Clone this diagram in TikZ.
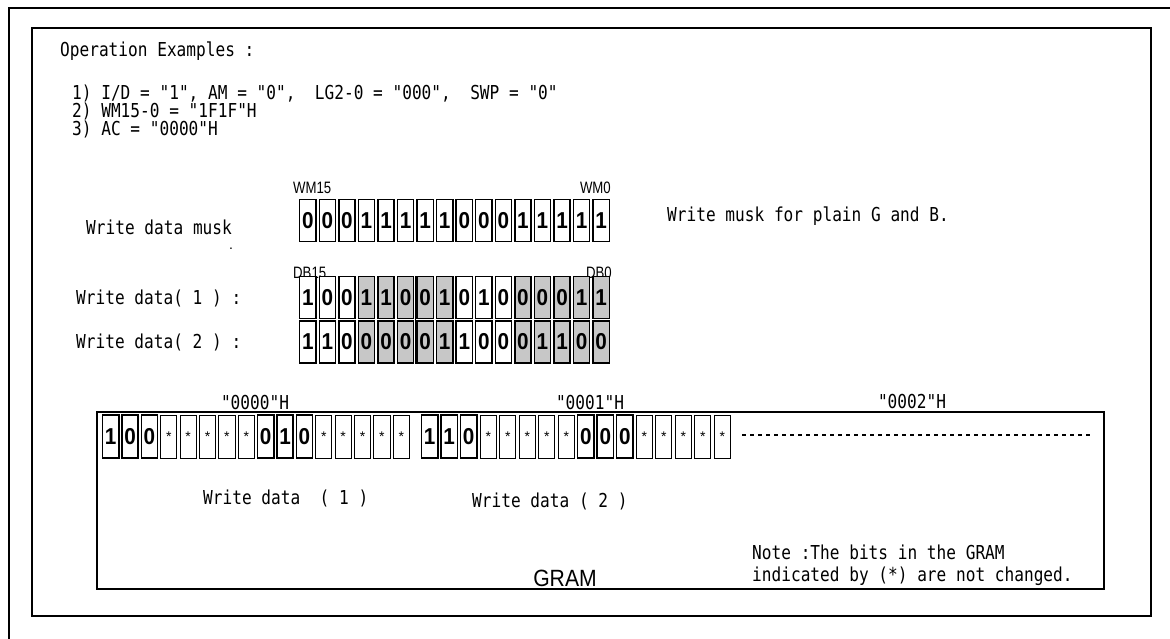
\documentclass[tikz,border=0pt]{standalone}
\usepackage{fontspec}
\setmainfont{Liberation Sans}
\newfontfamily\monofam[FakeStretch=0.84]{DejaVu Sans Mono}
\newfontfamily\lbfam[FakeStretch=0.8]{Liberation Sans}
\newfontfamily\grfam[FakeStretch=0.9]{Liberation Sans}
\newfontfamily\bitfam[FakeStretch=0.9]{Liberation Sans}
\tikzset{
  tx/.style={anchor=base west, inner sep=0, font=\monofam\fontsize{19.2}{22}\selectfont},
  lb/.style={inner sep=0, font=\lbfam\fontsize{16.5}{19}\selectfont},
  addr/.style={anchor=base, inner sep=0, font=\monofam\fontsize{19.2}{22}\selectfont},
  frame/.style={line width=2},
  cell/.style={draw, line width=1.4, minimum width=16.2, minimum height=42, inner sep=0,
    font=\bitfam\fontsize{23}{23}\selectfont\bfseries},
  sh0/.style={fill=white},
  sh1/.style={fill=black!22},
  gd/.style={draw, line width=1.5, minimum width=16.2, minimum height=43, inner sep=0,
    font=\bitfam\fontsize{23}{23}\selectfont\bfseries},
  gs/.style={draw, line width=0.9, minimum width=16.2, minimum height=43, inner sep=0,
    font=\fontsize{14}{14}\selectfont},
}
\begin{document}
\begin{tikzpicture}[x=1pt,y=-1pt]
\useasboundingbox (0,0) rectangle (1170,639);
% outer and inner frames
\draw[frame] (9,639) -- (9,8) -- (1170,8);
\draw[frame] (32,28) rectangle (1151,616);
\draw[frame] (97,412) rectangle (1104,589);

% header
\node[tx] (title) at (60,57) {Operation Examples :};
\node[tx] (c1) at (72,100) {1) I/D = "1", AM = "0",\ \ LG2-0 = "000",\ \ SWP = "0"};
\node[tx] (c2) at (72,118) {2) WM15-0 = "1F1F"H};
\node[tx] (c3) at (72,136) {3) AC = "0000"H};

% bit labels
\node[lb, anchor=base west] (wm15) at (293,194) {WM15};
\node[lb, anchor=base east] (wm0) at (611,194) {WM0};
\node[lb, anchor=base west] (db15) at (293,278) {DB15};
\node[lb, anchor=base east] (db0) at (612,278) {DB0};

% row labels
\node[tx] (lmask) at (86,235) {Write data musk};
\node[inner sep=0, font=\fontsize{14}{14}\selectfont] (dot) at (231,249) {.};
\node[tx] (ld1) at (76,304) {Write data( 1 ) :};
\node[tx] (ld2) at (76,348) {Write data( 2 ) :};
\node[tx] (lwm) at (667,222) {Write musk for plain G and B.};

% mask row
\foreach \b [count=\i from 0] in {0,0,0,1,1,1,1,1,0,0,0,1,1,1,1,1}
  \node[cell] (m\i) at ({298+19.56*(\i+0.5)},220.5) {\b};
% data rows
\foreach \b/\s [count=\i from 0] in {1/0,0/0,0/0,1/1,1/1,0/1,0/1,1/1,0/0,1/0,0/0,0/1,0/1,0/1,1/1,1/1}
  \node[cell, sh\s] (a\i) at ({298+19.56*(\i+0.5)},297.5) {\b};
\foreach \b/\s [count=\i from 0] in {1/0,1/0,0/0,0/1,0/1,0/1,0/1,1/1,1/0,0/0,0/0,0/1,1/1,1/1,0/1,0/1}
  \node[cell, sh\s] (b\i) at ({298+19.56*(\i+0.5)},342) {\b};
\draw[line width=0.8] (a5.north east -| 415.5,0) -- (b5.south east -| 415.5,0);

% address labels
\node[addr] (h0) at (255,409) {"0000"H};
\node[addr] (h1) at (590,409) {"0001"H};
\node[addr] (h2) at (912,408) {"0002"H};

% GRAM cells
\foreach \b/\t [count=\i from 0] in {1/gd,0/gd,0/gd,*/gs,*/gs,*/gs,*/gs,*/gs,0/gd,1/gd,0/gd,*/gs,*/gs,*/gs,*/gs,*/gs}
  \node[\t] (g\i) at ({101+19.375*(\i+0.5)},436.5) {\b};
\foreach \b/\t [count=\i from 0] in {1/gd,1/gd,0/gd,*/gs,*/gs,*/gs,*/gs,*/gs,0/gd,0/gd,0/gd,*/gs,*/gs,*/gs,*/gs,*/gs}
  \node[\t] (k\i) at ({420+19.5*(\i+0.5)},436.5) {\b};
\coordinate (dA) at (742,435);
\coordinate (dB) at (1093,435);
\draw[line width=1.3, dash pattern=on 4pt off 4pt] (dA) -- (dB);

% lower texts
\node[tx] (w1) at (203,504) {Write data\ \ ( 1 )};
\node[tx] (w2) at (472,507) {Write data ( 2 )};
\node[tx] (n1) at (752,559) {Note :The bits in the GRAM};
\node[tx] (n2) at (752,581) {indicated by (*) are not changed.};
\node[anchor=base, inner sep=0, font=\grfam\fontsize{23.5}{26}\selectfont] (gram) at (565,586) {GRAM};
\end{tikzpicture}
\end{document}
